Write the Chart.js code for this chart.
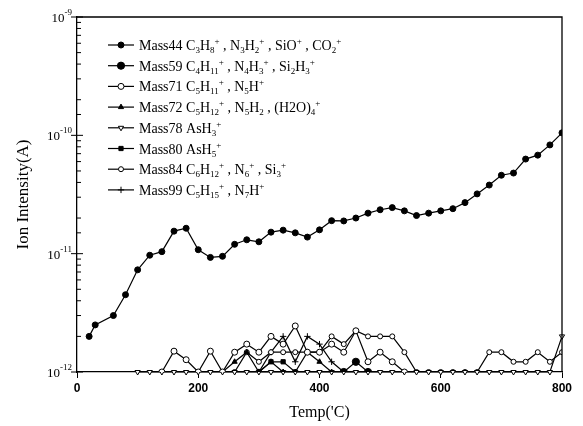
<!DOCTYPE html>
<html><head><meta charset="utf-8">
<script src="https://cdn.jsdelivr.net/npm/chart.js@4.4.1/dist/chart.umd.min.js"></script>
<style>html,body{margin:0;padding:0;background:#fff;overflow:hidden}canvas{display:block}</style>
</head><body>
<canvas id="c" width="583" height="426"></canvas>
<script>
// ---------- DATA ----------
const seriesNames = [
  'Mass44 C_3H_8^+ , N_3H_2^+ , SiO^+ , CO_2^+',
  'Mass59 C_4H_{11}^+ , N_4H_3^+ , Si_2H_3^+',
  'Mass71 C_5H_{11}^+ , N_5H^+',
  'Mass72 C_5H_{12}^+ , N_5H_2 , (H2O)_4^+',
  'Mass78 AsH_3^+',
  'Mass80 AsH_5^+',
  'Mass84 C_6H_{12}^+ , N_6^+ , Si_3^+',
  'Mass99 C_5H_{15}^+ , N_7H^+'
];
const xTicks = [0, 200, 400, 600, 800];
const yDecades = [1e-12, 1e-11, 1e-10, 1e-9];

const mass44T = [20,30,60,80,100,120,140,160,180,200,220,240,260,280,300,320,340,360,380,400,420,440,460,480,500,520,540,560,580,600,620,640,660,680,700,720,740,760,780,800];
const mass44  = [2.0e-12,2.5e-12,3.0e-12,4.5e-12,7.3e-12,9.7e-12,1.04e-11,1.55e-11,1.64e-11,1.08e-11,9.3e-12,9.5e-12,1.2e-11,1.31e-11,1.26e-11,1.52e-11,1.58e-11,1.5e-11,1.38e-11,1.59e-11,1.9e-11,1.89e-11,2.0e-11,2.2e-11,2.35e-11,2.45e-11,2.3e-11,2.1e-11,2.2e-11,2.3e-11,2.4e-11,2.7e-11,3.2e-11,3.8e-11,4.6e-11,4.8e-11,6.3e-11,6.8e-11,8.3e-11,1.05e-10];

const mass59T = [440,460,480];
const mass59  = [1.0e-12,1.22e-12,1.0e-12];

const mass71T = [140,160,180,200,220,240,260,280,300,320,340,360,380,400,420,440,460,480,500,520,540];
const mass71  = [1.0e-12,1.5e-12,1.27e-12,1.0e-12,1.5e-12,1.0e-12,1.47e-12,1.72e-12,1.47e-12,2.0e-12,1.72e-12,2.45e-12,1.47e-12,1.47e-12,1.72e-12,1.47e-12,2.23e-12,1.22e-12,1.47e-12,1.22e-12,1.0e-12];

const mass72T = [240,260,280,300,320,340,360,380,400,420];
const mass72  = [1.0e-12,1.22e-12,1.47e-12,1.0e-12,1.22e-12,1.0e-12,1.0e-12,1.47e-12,1.22e-12,1.0e-12];

const mass78T = [100,120,140,160,180,200,220,240,260,280,300,320,340,360,380,400,420,440,460,480,500,520,540,560,580,600,620,640,660,680,700,720,740,760,780,800];
const mass78  = [1e-12,1e-12,1e-12,1e-12,1e-12,1e-12,1e-12,1e-12,1e-12,1e-12,1e-12,1e-12,1e-12,1e-12,1e-12,1e-12,1e-12,1e-12,1e-12,1e-12,1e-12,1e-12,1e-12,1e-12,1e-12,1e-12,1e-12,1e-12,1e-12,1e-12,1e-12,1e-12,1e-12,1e-12,1e-12,2.0e-12];

const mass80T = [300,320,340,360];
const mass80  = [1.0e-12,1.22e-12,1.22e-12,1.0e-12];

const mass84T = [260,280,300,320,340,360,380,400,420,440,460,480,500,520,540,560,580,600,620,640,660,680,700,720,740,760,780,800];
const mass84  = [1.0e-12,1.47e-12,1.22e-12,1.47e-12,1.47e-12,1.47e-12,1.47e-12,1.47e-12,2.0e-12,1.72e-12,2.23e-12,2.0e-12,2.0e-12,2.0e-12,1.47e-12,1.0e-12,1.0e-12,1.0e-12,1.0e-12,1.0e-12,1.0e-12,1.47e-12,1.47e-12,1.22e-12,1.22e-12,1.47e-12,1.22e-12,1.47e-12];

const mass99T = [300,320,340,360,380,400,420,440];
const mass99  = [1.0e-12,1.47e-12,2.0e-12,1.22e-12,2.0e-12,1.72e-12,1.22e-12,1.0e-12];

// ---------- BUILD ----------
const pts = (T, V) => T.map((t, i) => ({x: t, y: V[i]}));
const styles = [
  {pointStyle:'circle', pointRadius:3, pointBackgroundColor:'#000'},
  {pointStyle:'circle', pointRadius:3.6, pointBackgroundColor:'#000'},
  {pointStyle:'circle', pointRadius:3, pointBackgroundColor:'#fff'},
  {pointStyle:'triangle', pointRadius:3, pointBackgroundColor:'#000'},
  {pointStyle:'triangle', pointRotation:180, pointRadius:3, pointBackgroundColor:'#fff', clip:false},
  {pointStyle:'rect', pointRadius:3, pointBackgroundColor:'#000'},
  {pointStyle:'circle', pointRadius:2.5, pointBackgroundColor:'#fff'},
  {pointStyle:'cross', pointRadius:3.2, pointBackgroundColor:'#000'}
];
const seriesData = [
  pts(mass44T, mass44), pts(mass59T, mass59), pts(mass71T, mass71), pts(mass72T, mass72),
  pts(mass78T, mass78), pts(mass80T, mass80), pts(mass84T, mass84), pts(mass99T, mass99)
];
const datasets = seriesData.map((d, i) => Object.assign({
  label: seriesNames[i], data: d, borderColor:'#000', borderWidth:1.2,
  pointBorderColor:'#000', pointBorderWidth:1, tension:0, fill:false
}, styles[i]));

const FONT_SERIF = '"Liberation Serif", "Times New Roman", serif';

function drawRich(ctx, str, x, y, size) {
  let i = 0;
  while (i < str.length) {
    const c = str[i];
    let mode = 'n', t;
    if (c === '_' || c === '^') {
      mode = c; i++;
      if (str[i] === '{') { const j = str.indexOf('}', i); t = str.slice(i + 1, j); i = j + 1; }
      else { t = str[i]; i++; }
    } else {
      let j = i; while (j < str.length && str[j] !== '_' && str[j] !== '^') j++;
      t = str.slice(i, j); i = j;
    }
    if (mode === 'n') { ctx.font = size + 'px ' + FONT_SERIF; ctx.fillText(t, x, y); }
    else { ctx.font = Math.round(size * 0.64) + 'px ' + FONT_SERIF; ctx.fillText(t, x, y + (mode === '_' ? 3 : -6)); }
    x += ctx.measureText(t).width;
  }
}

const decor = {
  id: 'decor',
  afterDraw(chart) {
    const {ctx, chartArea: a, scales: {y}} = chart;
    ctx.save();
    ctx.strokeStyle = '#000'; ctx.fillStyle = '#000';
    ctx.lineWidth = 1.3;
    ctx.beginPath(); ctx.moveTo(a.left, a.top); ctx.lineTo(a.right, a.top); ctx.lineTo(a.right, a.bottom); ctx.stroke();
    // y ticks
    ctx.lineWidth = 1;
    y.ticks.forEach(tk => {
      const py = y.getPixelForValue(tk.value);
      const lg = Math.log10(tk.value);
      const major = Math.abs(lg - Math.round(lg)) < 1e-6;
      ctx.beginPath();
      if (major) { ctx.moveTo(a.left - 6, py); ctx.lineTo(a.left + 6, py); }
      else { ctx.moveTo(a.left, py); ctx.lineTo(a.left + 4, py); }
      ctx.stroke();
    });
    // y labels
    ctx.textBaseline = 'alphabetic'; ctx.textAlign = 'left';
    yDecades.forEach(v => {
      const py = y.getPixelForValue(v);
      const e = String(Math.round(Math.log10(v)));
      ctx.font = '13px ' + FONT_SERIF; const w1 = ctx.measureText('10').width;
      ctx.font = '9px ' + FONT_SERIF; const w2 = ctx.measureText(e).width;
      const x0 = a.left - 5 - w1 - w2;
      ctx.font = '13px ' + FONT_SERIF; ctx.fillText('10', x0, py + 5);
      ctx.font = '9px ' + FONT_SERIF; ctx.fillText(e, x0 + w1, py - 2);
    });
    // legend
    const rowY0 = 45, rowStep = 20.7;
    chart.data.datasets.forEach((ds, i) => {
      const ry = rowY0 + i * rowStep;
      ctx.lineWidth = 1.2; ctx.strokeStyle = '#000';
      ctx.beginPath(); ctx.moveTo(108, ry); ctx.lineTo(134, ry); ctx.stroke();
      ctx.fillStyle = ds.pointBackgroundColor; ctx.strokeStyle = '#000'; ctx.lineWidth = 1;
      Chart.helpers.drawPoint(ctx, {pointStyle: ds.pointStyle, radius: ds.pointRadius, rotation: ds.pointRotation || 0, borderWidth: 1}, 121, ry);
      ctx.fillStyle = '#000';
      drawRich(ctx, seriesNames[i], 139, ry + 5, 14);
    });
    ctx.restore();
  }
};

new Chart(document.getElementById('c'), {
  type: 'line',
  data: {datasets},
  plugins: [decor],
  options: {
    responsive: false, animation: false, devicePixelRatio: 1,
    layout: {padding: {left: 0, right: 21, top: 17, bottom: 0}},
    plugins: {legend: {display: false}, tooltip: {enabled: false}},
    scales: {
      x: {
        type: 'linear', min: 0, max: 800,
        afterBuildTicks: s => { s.ticks = xTicks.map(v => ({value: v})); },
        ticks: {color: '#000', font: {family: '"Liberation Sans", Arial, sans-serif', size: 12, weight: 'bold'}, padding: 3, maxRotation: 0, autoSkip: false},
        grid: {drawOnChartArea: false, tickLength: 6, color: '#000', tickColor: '#000', tickWidth: 1},
        border: {color: '#000', width: 1.3},
        title: {display: true, text: "Temp('C)", color: '#000', font: {family: FONT_SERIF, size: 16}, padding: {top: 0, bottom: 4}},
        afterFit: s => { s.height = 54; }
      },
      y: {
        type: 'logarithmic', min: 1e-12, max: 1e-9,
        ticks: {display: false, autoSkip: false},
        grid: {display: false},
        border: {color: '#000', width: 1.3},
        title: {display: true, text: 'Ion Intensity(A)', color: '#000', font: {family: FONT_SERIF, size: 17}, padding: {top: 13, bottom: 0}},
        afterFit: s => { s.width = 77; }
      }
    }
  }
});
</script>
</body></html>
